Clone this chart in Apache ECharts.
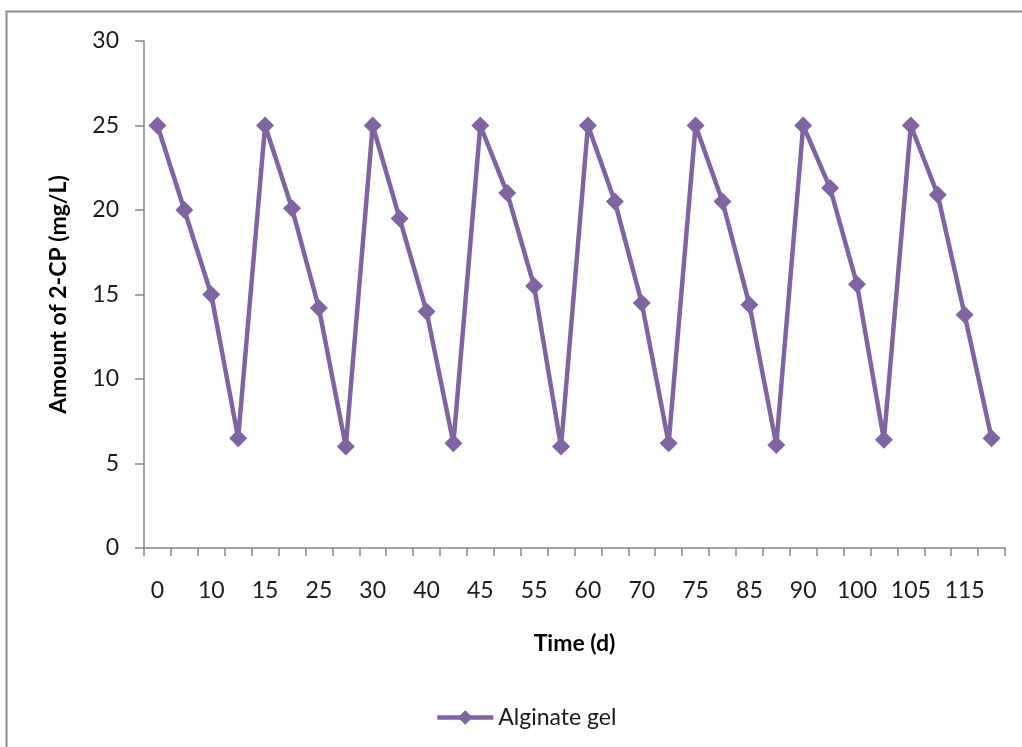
<!DOCTYPE html>
<html>
<head>
<meta charset="utf-8">
<script src="https://cdn.jsdelivr.net/npm/echarts@6/dist/echarts.min.js"></script>
<style>
html,body{margin:0;padding:0;background:#fff;}
#chart{width:1022px;height:747px;}
</style>
</head>
<body>
<div id="chart"></div>
<script>
// Time categories (d)
const timeCategories = ['0','5','10','12','15','20','25','27','30','35','40','42','45','50','55','57','60','65','70','72','75','80','85','87','90','95','100','102','105','110','115','117'];
// Amount of 2-CP (mg/L), Alginate gel
const alginateGel = [25,20,15,6.5, 25,20.1,14.2,6.0, 25,19.5,14.0,6.2, 25,21.0,15.5,6.0, 25,20.5,14.5,6.2, 25,20.5,14.4,6.1, 25,21.3,15.6,6.4, 25,20.9,13.8,6.5];
const seriesName = 'Alginate gel';
const xTitle = 'Time (d)';
const yTitle = 'Amount of 2-CP (mg/L)';

const FONT = 'Lato, "Open Sans", sans-serif';
const chart = echarts.init(document.getElementById('chart'), null, {renderer:'canvas'});
chart.setOption({
  animation:false,
  backgroundColor:'#fff',
  textStyle:{fontFamily:FONT},
  graphic:[{
    type:'rect', silent:true,
    shape:{x:6.5,y:11.5,width:2000,height:2000},
    style:{fill:'none',stroke:'#8c8c8c',lineWidth:2}
  }],
  grid:{left:144,right:17,top:41,bottom:199,containLabel:false},
  legend:{
    data:[seriesName],
    left:430, top:701,
    itemWidth:56, itemHeight:18, itemGap:5,
    lineStyle:{width:4.5},
    textStyle:{fontFamily:FONT,fontSize:23,color:'#1a1a1a'}
  },
  xAxis:{
    type:'category',
    data:timeCategories,
    boundaryGap:true,
    name:xTitle,
    nameLocation:'middle',
    nameGap:84,
    nameTextStyle:{fontFamily:FONT,fontSize:23,fontWeight:'bold',color:'#000'},
    axisLine:{lineStyle:{color:'#868686',width:1.5}},
    axisTick:{show:true,interval:0,length:8,lineStyle:{color:'#868686',width:1.5}},
    axisLabel:{interval:1,margin:31,fontFamily:FONT,fontSize:23,color:'#1a1a1a'},
    splitLine:{show:false}
  },
  yAxis:{
    type:'value',
    min:0,max:30,interval:5,
    name:yTitle,
    nameLocation:'middle',
    nameGap:74,
    nameTextStyle:{fontFamily:FONT,fontSize:23,fontWeight:'bold',color:'#000'},
    axisLine:{show:true,lineStyle:{color:'#868686',width:1.5}},
    axisTick:{show:true,length:9,lineStyle:{color:'#868686',width:1.5}},
    axisLabel:{margin:25,fontFamily:FONT,fontSize:23,color:'#1a1a1a'},
    splitLine:{show:false}
  },
  series:[{
    name:seriesName,
    type:'line',
    data:alginateGel,
    symbol:'diamond',
    symbolSize:18,
    showAllSymbol:true,
    itemStyle:{color:'#8064A2'},
    lineStyle:{color:'#8064A2',width:4.5}
  }]
});
</script>
</body>
</html>
